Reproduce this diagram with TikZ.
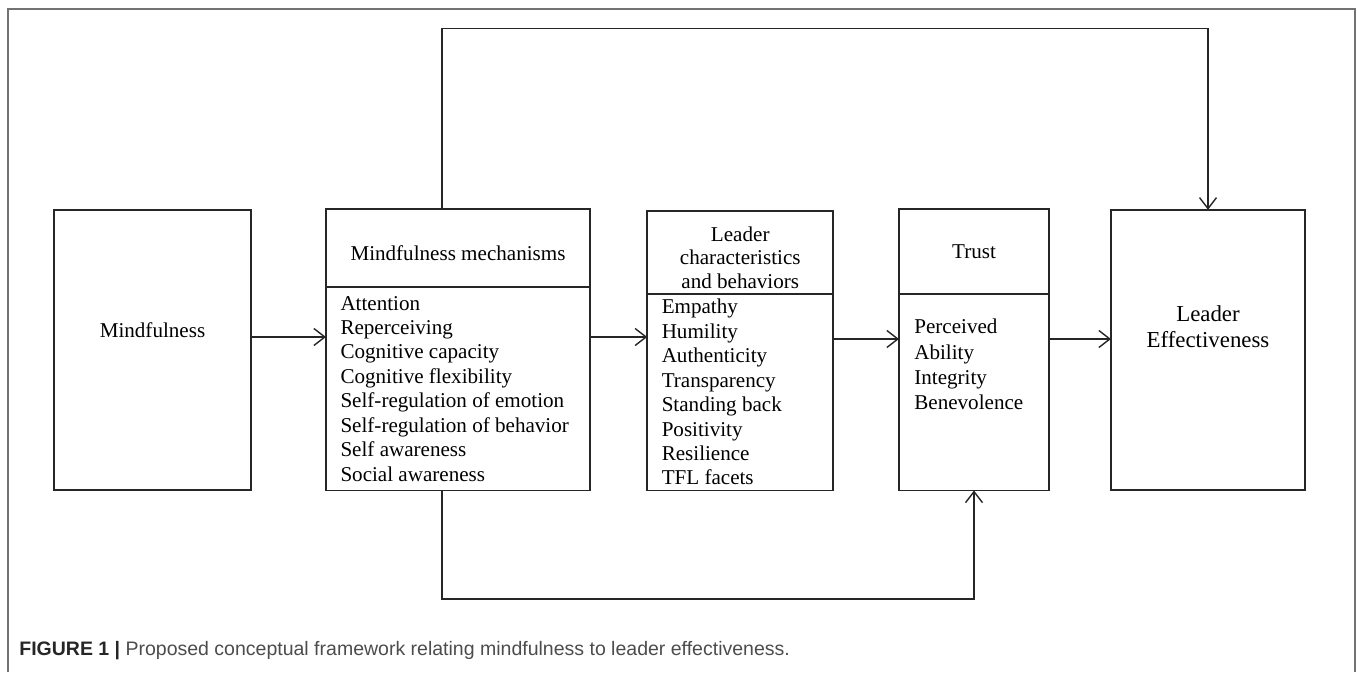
\documentclass[tikz,border=0pt]{standalone}
\usepackage{fontspec}
\setmainfont{Liberation Serif}
\newfontfamily\capfont{Liberation Sans}
\usepackage{tikz}
\usetikzlibrary{arrows.meta,positioning}

\begin{document}
\begin{tikzpicture}[
  box/.style={rectangle, draw=black!85, line width=0.9pt, outer sep=0pt, inner sep=0pt, font=\fontsize{12}{13.9}\selectfont},
  list/.style={box, align=flush left, inner xsep=0.29cm},
  flow/.style={draw=black!85, line width=0.8pt, -{Straight Barb[length=0.22cm,width=0.34cm]}}
]
\useasboundingbox (0,0) rectangle (27.14,13.44);
\draw [black!55, line width=0.8pt] (0.16,0) -- (0.16,13.26) -- (27.1,13.26) -- (27.1,0);

\node (mind) [box, minimum width=3.94cm, minimum height=5.6cm] at (3.05,6.44) {};
\node (mindtext) [font=\fontsize{12}{13.9}\selectfont] at (3.05,6.84) {Mindfulness};

\node (mech) [box, minimum width=5.28cm, minimum height=1.56cm] at (9.16,8.48) {\rule{0pt}{0.49cm}Mindfulness mechanisms};
\node (mechbody) [list, text width=4.70cm, minimum height=4.07cm, below=0cm of mech] {Attention\\Reperceiving\\Cognitive capacity\\Cognitive flexibility\\Self-regulation of emotion\\Self-regulation of behavior\\Self awareness\\Social awareness};

\node (lead) [box, align=center, minimum width=3.72cm, minimum height=1.66cm, font=\fontsize{12}{13.5}\selectfont] at (14.805,8.39) {\rule{0pt}{0.5cm}Leader\\characteristics\\and behaviors};
\node (leadbody) [list, text width=3.14cm, minimum height=3.93cm, below=0cm of lead] {Empathy\\Humility\\Authenticity\\Transparency\\Standing back\\Positivity\\Resilience\\TFL facets};

\node (trust) [box, minimum width=3.0cm, minimum height=1.7cm] at (19.48,8.41) {Trust};
\node (trustbody) [box, minimum width=3.0cm, minimum height=3.93cm, below=0cm of trust] {};
\node (trustitems) [align=flush left, inner sep=0pt, font=\fontsize{12}{14.4}\selectfont, anchor=north west, below right=0.5cm and 0.3cm of trustbody.north west] {Perceived\\Ability\\Integrity\\Benevolence};

\node (le) [box, minimum width=3.88cm, minimum height=5.61cm] at (24.16,6.44) {};
\node (letext) [align=center, font=\fontsize{13}{14.8}\selectfont] at (24.16,6.9) {Leader\\Effectiveness};

\coordinate (row1) at (0,6.70);
\coordinate (row2) at (0,6.66);
\draw [flow] (mind.east |- row1) -- (mechbody.west |- row1);
\draw [flow] (mechbody.east |- row1) -- (leadbody.west |- row1);
\draw [flow] (leadbody.east |- row2) -- (trustbody.west |- row2);
\draw [flow] (trustbody.east |- row2) -- (le.west |- row2);

\draw [flow] ([xshift=-0.32cm]mech.north) -- ++(0,3.61) -| (le.north);
\draw [flow] ([xshift=-0.32cm]mechbody.south) -- ++(0,-2.17) -| (trustbody.south);

\node (caption) [anchor=west, inner sep=0pt, font=\capfont\fontsize{11.1}{12}\selectfont] at (0.38,0.42) {\textcolor{black!85}{\textbf{FIGURE 1 |}} \textcolor{black!70}{Proposed conceptual framework relating mindfulness to leader effectiveness.}};
\end{tikzpicture}
\end{document}
